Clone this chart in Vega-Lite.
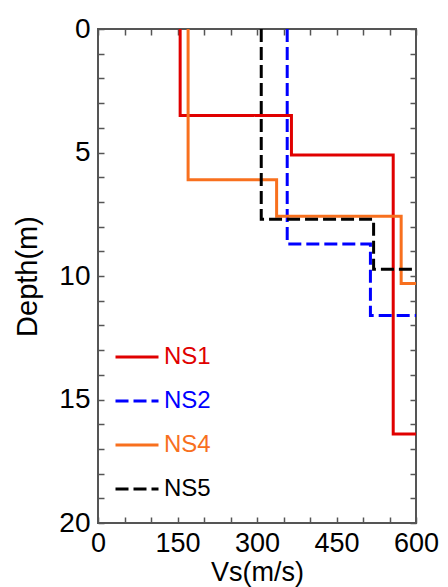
{
  "$schema": "https://vega.github.io/schema/vega-lite/v6.json",
  "autosize": {"type": "none"},
  "width": 318,
  "height": 494,
  "padding": {"left": 98, "top": 29, "right": 32, "bottom": 64},
  "background": "white",
  "data": {
    "values": [
      {"series": "NS1", "i": 0, "vs": 155, "depth": 0},
      {"series": "NS1", "i": 1, "vs": 155, "depth": 3.5},
      {"series": "NS1", "i": 2, "vs": 365, "depth": 3.5},
      {"series": "NS1", "i": 3, "vs": 365, "depth": 5.1},
      {"series": "NS1", "i": 4, "vs": 557, "depth": 5.1},
      {"series": "NS1", "i": 5, "vs": 557, "depth": 16.4},
      {"series": "NS1", "i": 6, "vs": 600, "depth": 16.4},
      {"series": "NS2", "i": 0, "vs": 357, "depth": 0},
      {"series": "NS2", "i": 1, "vs": 357, "depth": 8.7},
      {"series": "NS2", "i": 2, "vs": 514, "depth": 8.7},
      {"series": "NS2", "i": 3, "vs": 514, "depth": 11.6},
      {"series": "NS2", "i": 4, "vs": 600, "depth": 11.6},
      {"series": "NS4", "i": 0, "vs": 170, "depth": 0},
      {"series": "NS4", "i": 1, "vs": 170, "depth": 6.1},
      {"series": "NS4", "i": 2, "vs": 337, "depth": 6.1},
      {"series": "NS4", "i": 3, "vs": 337, "depth": 7.58},
      {"series": "NS4", "i": 4, "vs": 572, "depth": 7.58},
      {"series": "NS4", "i": 5, "vs": 572, "depth": 10.3},
      {"series": "NS4", "i": 6, "vs": 600, "depth": 10.3},
      {"series": "NS5", "i": 0, "vs": 308, "depth": 0},
      {"series": "NS5", "i": 1, "vs": 308, "depth": 7.7},
      {"series": "NS5", "i": 2, "vs": 520, "depth": 7.7},
      {"series": "NS5", "i": 3, "vs": 520, "depth": 9.73},
      {"series": "NS5", "i": 4, "vs": 600, "depth": 9.73}
    ]
  },
  "layer": [
    {
      "mark": {"type": "line", "strokeWidth": 3, "strokeCap": "butt"},
      "encoding": {
        "x": {
          "field": "vs", "type": "quantitative",
          "scale": {"domain": [0, 600], "nice": false, "zero": false},
          "axis": {
            "orient": "bottom", "title": "Vs(m/s)",
            "values": [0,50,100,150,200,250,300,350,400,450,500,550,600],
            "labelExpr": "datum.value % 150 === 0 ? datum.label : ''",
            "labelOverlap": false, "labelFlush": false, "labelFontSize": 27,
            "titleFontSize": 27,
            "tickSize": -6, "labelPadding": 13, "titlePadding": 3
          }
        },
        "y": {
          "field": "depth", "type": "quantitative",
          "scale": {"domain": [0, 20], "reverse": true, "nice": false, "zero": false},
          "axis": {
            "orient": "left", "title": "Depth(m)",
            "values": [0,1,2,3,4,5,6,7,8,9,10,11,12,13,14,15,16,17,18,19,20],
            "labelExpr": "datum.value % 5 === 0 ? datum.label : ''",
            "labelOverlap": false, "labelFlush": false,
            "tickSize": -6, "labelPadding": 14, "titlePadding": 16
          }
        },
        "color": {
          "field": "series", "type": "nominal",
          "scale": {"domain": ["NS1", "NS2", "NS4", "NS5"], "range": ["#e00000", "#0000ff", "#f8701e", "#000000"]},
          "legend": {
            "orient": "none", "legendX": 16, "legendY": 305, "title": null,
            "encode": {"labels": {"update": {"fill": {"scale": "color", "field": "value"}}}}
          }
        },
        "strokeDash": {
          "field": "series", "type": "nominal",
          "scale": {"domain": ["NS1", "NS2", "NS4", "NS5"], "range": [[1, 0], [13, 5], [1, 0], [13, 5]]},
          "legend": {
            "orient": "none", "legendX": 16, "legendY": 305, "title": null
          }
        },
        "order": {"field": "i", "type": "quantitative"}
      }
    },
    {
      "mark": {"type": "line", "opacity": 0},
      "encoding": {
        "x": {
          "field": "vs", "type": "quantitative",
          "axis": {
            "orient": "top", "title": null, "labels": false,
            "values": [0,50,100,150,200,250,300,350,400,450,500,550,600],
            "tickSize": -6
          }
        },
        "y": {
          "field": "depth", "type": "quantitative",
          "axis": {
            "orient": "right", "title": null, "labels": false,
            "values": [0,1,2,3,4,5,6,7,8,9,10,11,12,13,14,15,16,17,18,19,20],
            "tickSize": -6
          }
        },
        "detail": {"field": "series", "type": "nominal"},
        "order": {"field": "i", "type": "quantitative"}
      }
    }
  ],
  "resolve": {"axis": {"x": "independent", "y": "independent"}},
  "config": {
    "font": "Liberation Sans",
    "view": {"stroke": "#555555", "strokeWidth": 2},
    "axis": {
      "domain": false, "grid": false,
      "tickColor": "#555555", "tickWidth": 1.5,
      "labelFont": "Liberation Sans", "labelFontSize": 28, "labelColor": "#000000",
      "titleFont": "Liberation Sans", "titleFontSize": 29, "titleFontWeight": "normal", "titleColor": "#000000"
    },
    "legend": {
      "symbolType": "stroke", "symbolSize": 1849, "symbolStrokeWidth": 3,
      "labelFont": "Liberation Sans", "labelFontSize": 24, "labelOffset": 4,
      "rowPadding": 9, "padding": 0
    }
  }
}
